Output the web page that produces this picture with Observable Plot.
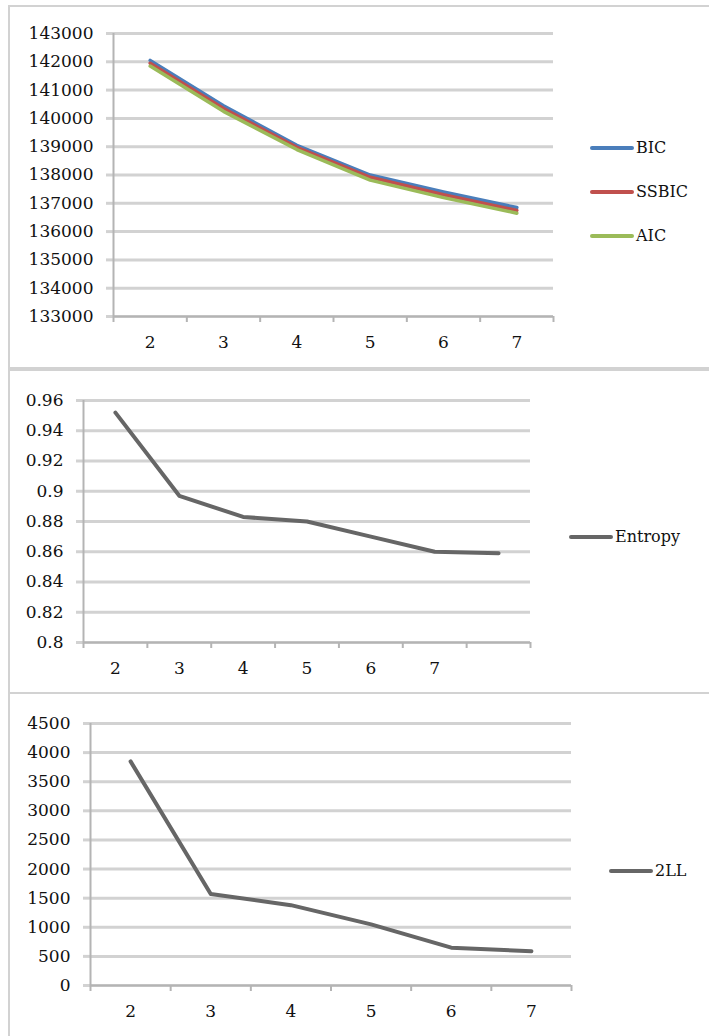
<!DOCTYPE html>
<html>
<head>
<meta charset="utf-8">
<script src="https://cdn.jsdelivr.net/npm/d3@7"></script>
<script src="https://cdn.jsdelivr.net/npm/@observablehq/plot@0.6"></script>
<style>
  html, body { margin: 0; padding: 0; background: #fff; }
  #page { position: relative; width: 709px; height: 1036px; overflow: hidden; background: #fff; }
  .panel { position: absolute; left: 8px; width: 760px; border: 2px solid #d2d2d2; box-sizing: border-box; }
  .chart { position: absolute; left: 0; }
  .legend { position: absolute; font-family: "DejaVu Serif", serif; font-size: 16px; color: #111; display: flex; align-items: center; }
  .legend .sw { display: inline-block; width: 44px; height: 4px; border-radius: 2px; margin-right: 2px; }
</style>
</head>
<body>
<div id="page">
  <div class="panel" style="top:5px;height:364px;"></div>
  <div class="panel" style="top:369px;height:325px;"></div>
  <div class="panel" style="top:692px;height:400px;"></div>
</div>
<script>
// ---- data ----
const classes = [2, 3, 4, 5, 6, 7];
const bic   = [142050, 140450, 139050, 138000, 137400, 136850];
const ssbic = [141950, 140350, 138980, 137920, 137300, 136750];
const aic   = [141850, 140250, 138900, 137820, 137200, 136650];
const icTicks = [133000, 134000, 135000, 136000, 137000, 138000, 139000, 140000, 141000, 142000, 143000];

const entropyCats = ["2", "3", "4", "5", "6", "7", ""];
const entropy = [0.952, 0.897, 0.883, 0.880, 0.870, 0.860, 0.859];
const entropyTicks = [0.8, 0.82, 0.84, 0.86, 0.88, 0.9, 0.92, 0.94, 0.96];

const ll2 = [3850, 1570, 1380, 1050, 650, 590];
const llTicks = [0, 500, 1000, 1500, 2000, 2500, 3000, 3500, 4000, 4500];

const icSeries = [
  {name: "BIC", values: bic, color: "#4a7ebb"},
  {name: "SSBIC", values: ssbic, color: "#c0504d"},
  {name: "AIC", values: aic, color: "#9bbb59"}
];

const FONT = "DejaVu Serif";
const GRID = "#d2d2d2";
const AXIS = "#b4b4b4";
const TEXT = "#111111";
const page = document.getElementById("page");

function place(svg, top) {
  svg.classList.add("chart");
  svg.style.top = top + "px";
  svg.style.background = "transparent";
  page.appendChild(svg);
}
function legend(items, left, top, gap) {
  items.forEach((it, i) => {
    const d = document.createElement("div");
    d.className = "legend";
    d.style.left = left + "px";
    d.style.top = (top + i * gap) + "px";
    d.innerHTML = `<span class="sw" style="background:${it.color}"></span><span>${it.name}</span>`;
    page.appendChild(d);
  });
}

function frameMarks(xDomain, yDomain, yTicks, yFmt, xLabelTicks, xLabelFmt, fs) {
  const bounds = d3.range(xDomain[0], xDomain[1] + 0.001, 1);
  return [
    Plot.gridY(yTicks, {stroke: GRID, strokeOpacity: 1, strokeWidth: 3}),
    Plot.axisY(yTicks, {tickSize: 7, tickPadding: 13, stroke: GRID, strokeWidth: 3, tickFormat: yFmt, fontSize: fs, fill: TEXT, fontFamily: FONT, label: null}),
    Plot.ruleX([xDomain[0]], {stroke: AXIS, strokeWidth: 2}),
    Plot.ruleY([yDomain[0]], {stroke: AXIS, strokeWidth: 2}),
    Plot.axisX(bounds, {tickSize: 6, stroke: AXIS, strokeWidth: 2, tickFormat: () => "", label: null}),
    Plot.axisX(xLabelTicks, {tickSize: 0, tickPadding: 19, tickFormat: xLabelFmt, fontSize: fs, fill: TEXT, fontFamily: FONT, label: null})
  ];
}

// ---- Panel 1: BIC / SSBIC / AIC ----
{
  const rows = icSeries.flatMap(s => classes.map((c, i) => ({k: c, v: s.values[i], name: s.name})));
  const svg = Plot.plot({
    width: 709, height: 367,
    marginTop: 33, marginBottom: 51, marginLeft: 113, marginRight: 156,
    x: {type: "linear", domain: [1.5, 7.5]},
    y: {domain: [133000, 143000]},
    color: {domain: icSeries.map(s => s.name), range: icSeries.map(s => s.color)},
    style: {fontFamily: FONT, fontSize: "17px", color: TEXT, background: "transparent"},
    marks: [
      ...frameMarks([1.5, 7.5], [133000, 143000], icTicks, d => String(d), classes, d => String(d), 17),
      Plot.line(rows, {x: "k", y: "v", z: "name", stroke: "name", strokeWidth: 3.5})
    ]
  });
  place(svg, 0);
  legend(icSeries, 590, 138, 44);
}

// ---- Panel 2: Entropy ----
{
  const rows = entropyCats.map((c, i) => ({k: i + 2, v: entropy[i]}));
  const labelPos = entropyCats.map((c, i) => i + 2);
  const svg = Plot.plot({
    width: 709, height: 323,
    marginTop: 31, marginBottom: 50, marginLeft: 83, marginRight: 179,
    x: {type: "linear", domain: [1.5, 8.5]},
    y: {domain: [0.8, 0.96]},
    style: {fontFamily: FONT, fontSize: "17px", color: TEXT, background: "transparent"},
    marks: [
      ...frameMarks([1.5, 8.5], [0.8, 0.96], entropyTicks, d => String(+d.toFixed(2)), labelPos, d => entropyCats[d - 2], 17),
      Plot.line(rows, {x: "k", y: "v", stroke: "#666666", strokeWidth: 4})
    ]
  });
  place(svg, 369);
  legend([{name: "Entropy", color: "#666666"}], 569, 527, 0);
}

// ---- Panel 3: 2LL ----
{
  const rows = classes.map((c, i) => ({k: c, v: ll2[i]}));
  const svg = Plot.plot({
    width: 709, height: 344,
    marginTop: 31, marginBottom: 51, marginLeft: 90, marginRight: 138,
    x: {type: "linear", domain: [1.5, 7.5]},
    y: {domain: [0, 4500]},
    style: {fontFamily: FONT, fontSize: "17px", color: TEXT, background: "transparent"},
    marks: [
      ...frameMarks([1.5, 7.5], [0, 4500], llTicks, d => String(d), classes, d => String(d), 17),
      Plot.line(rows, {x: "k", y: "v", stroke: "#666666", strokeWidth: 4})
    ]
  });
  place(svg, 692);
  legend([{name: "2LL", color: "#666666"}], 609, 861, 0);
}
</script>
</body>
</html>
